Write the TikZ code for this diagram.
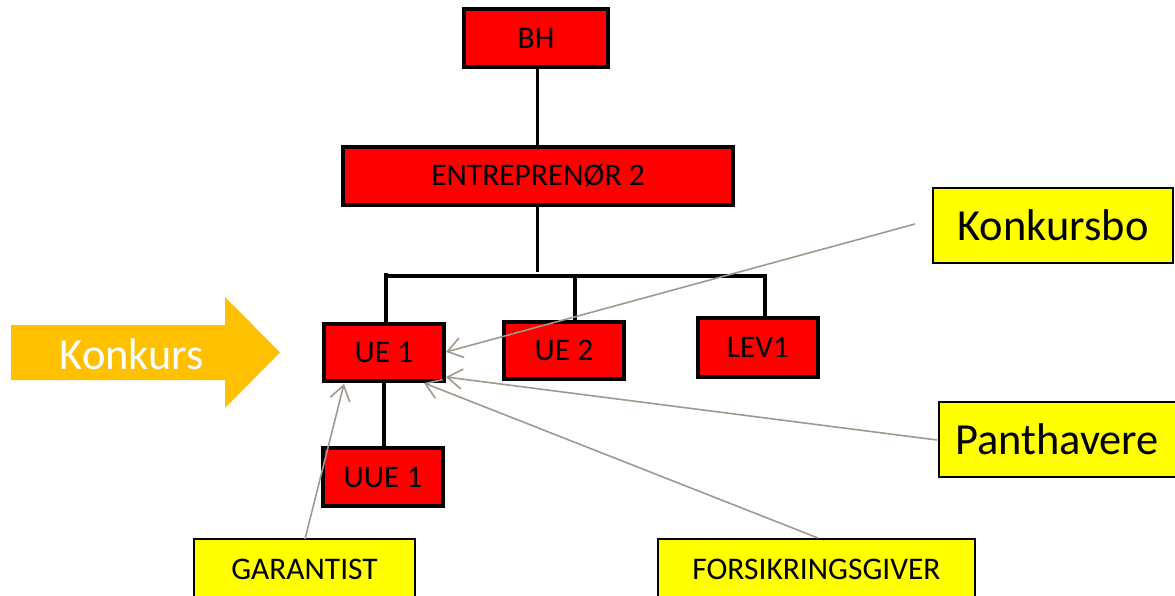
\documentclass[tikz,border=0pt]{standalone}
\usepackage{fontspec}
\setmainfont{Carlito}
\usetikzlibrary{arrows.meta}
\definecolor{boxred}{RGB}{255,0,0}
\definecolor{boxyellow}{RGB}{255,255,0}
\definecolor{arrowgold}{RGB}{255,192,0}
\definecolor{linkgray}{RGB}{164,152,140}
\tikzset{
  redbox/.style={draw=black, line width=2.5pt, fill=boxred, inner sep=0pt, font=\fontsize{23.6}{23.6}\selectfont},
  yelbox/.style={draw=black, line width=1.5pt, fill=boxyellow, inner sep=0pt},
  smalltxt/.style={font=\fontsize{23.6}{23.6}\selectfont},
  bigtxt/.style={font=\fontsize{33.3}{33.3}\selectfont},
  tree/.style={draw=black, line width=2.5pt},
  link/.style={draw=linkgray, line width=1.2pt, -{Straight Barb[length=11pt,width=15pt,line width=1.2pt]}}
}
\begin{document}
\begin{tikzpicture}[x=0.75pt,y=-0.75pt]
\clip (0,0) rectangle (1175,596);
\fill[white] (0,0) rectangle (1175,596);
% Konkurs arrow
\fill[arrowgold] (11,325) -- (225,325) -- (225,297) -- (280,352.5) -- (225,408) -- (225,380) -- (11,380) -- cycle;
\node[bigtxt, text=white] (konkurs) at (132,354) {Konkurs};
% red boxes
\node[redbox, minimum width=108pt, minimum height=43.5pt] (BH) at (536,38) {BH};
\node[redbox, minimum width=292.5pt, minimum height=43.5pt] (ENT) at (538,176) {ENTREPRENØR 2};
\node[redbox, minimum width=90pt, minimum height=42.75pt] (UE1) at (384,352.5) {UE 1};
\node[redbox, minimum width=90pt, minimum height=42.75pt] (UE2) at (564,350.5) {UE 2};
\node[redbox, minimum width=90pt, minimum height=44.25pt] (LEV1) at (758,347.5) {LEV1};
\node[redbox, minimum width=90pt, minimum height=43.5pt] (UUE1) at (383,477) {UUE 1};
% yellow boxes
\node[yelbox, smalltxt, minimum width=165.75pt, minimum height=45.75pt] (GAR) at (304.5,569.5) {GARANTIST};
\node[yelbox, smalltxt, minimum width=237.75pt, minimum height=45.75pt] (FORS) at (816.5,569.5) {FORSIKRINGSGIVER};
\node[yelbox, bigtxt, minimum width=180pt, minimum height=56.25pt] (KBO) at (1053,225.5) {Konkursbo};
\node[yelbox, bigtxt, minimum width=177.75pt, minimum height=56.25pt] (PANT) at (1057,439.5) {Panthavere};
% tree connectors
\coordinate (entEnd) at (537.5,272);
\coordinate (barL) at (386,276);
\coordinate (barM) at (575,276);
\coordinate (barR) at (765,276);
\coordinate (bhLine) at (537.5,0);
\draw[tree] (BH.south -| bhLine) -- (ENT.north -| bhLine);
\draw[tree] (ENT.south -| entEnd) -- (entEnd);
\draw[tree] (UE1.north -| barL) -- ([yshift=2.25pt]barL) ;
\draw[tree] (barL) -- (barR) -- (LEV1.north -| barR);
\draw[tree] (barM) -- (UE2.north -| barM);
\draw[tree] (UE1.south) -- (UUE1.north -| UE1.south);
% gray links
\coordinate (kboStart) at (915,224);
\coordinate (pantStart) at (937,440);
\coordinate (forsStart) at (818,538);
\coordinate (garStart) at (305,539);
\coordinate (tipA) at (446,352);
\coordinate (tipB) at (446,377);
\coordinate (tipC) at (424,383);
\coordinate (tipD) at (344,384);
\draw[link] (kboStart) -- (tipA);
\draw[link] (pantStart) -- (tipB);
\draw[link] (forsStart) -- (tipC);
\draw[link] (garStart) -- (tipD);
\end{tikzpicture}
\end{document}
